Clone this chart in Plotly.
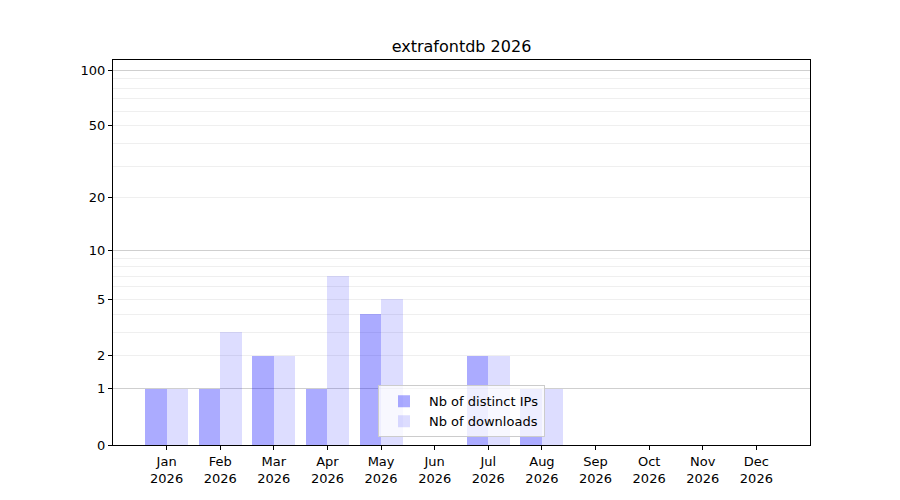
import numpy as np
import plotly.graph_objects as go

months = ["Jan", "Feb", "Mar", "Apr", "May", "Jun", "Jul", "Aug", "Sep", "Oct", "Nov", "Dec"]
year = 2026
distinct_ips = [1, 1, 2, 1, 4, 0, 2, 1, 0, 0, 0, 0]
downloads = [1, 3, 2, 7, 5, 0, 2, 1, 0, 0, 0, 0]
major_labels = [0, 1, 10, 100]
minor_labels = [2, 5, 20, 50]


def tr(v):
    # log10(1 + x) scale
    return np.log10(1 + np.asarray(v, dtype=float))


x = np.arange(1, len(months) + 1)
xlabels = [f"{m}<br>{year}" for m in months]

minor_vals = list(range(2, 10)) + list(range(20, 100, 10))
yrange = [0, float(tr(113.5))]

fig = go.Figure()
fig.add_trace(go.Bar(
    x=x - 0.2, y=tr(distinct_ips), width=0.4,
    marker=dict(color="rgba(0,0,255,0.33)", line=dict(width=0)),
    name="Nb of distinct IPs",
))
fig.add_trace(go.Bar(
    x=x + 0.2, y=tr(downloads), width=0.4,
    marker=dict(color="rgba(0,0,255,0.135)", line=dict(width=0)),
    name="Nb of downloads",
))
# invisible trace to carry the secondary tick labels (2, 5, 20, 50)
fig.add_trace(go.Scatter(x=[None], y=[None], yaxis="y2", showlegend=False, hoverinfo="skip"))

fig.update_layout(
    width=900, height=500,
    margin=dict(l=105, r=98, t=52, b=63),
    paper_bgcolor="white", plot_bgcolor="white",
    font=dict(family="DejaVu Sans", size=13, color="black"),
    title=dict(text=f"extrafontdb {year}", x=0.5, xref="paper", xanchor="center",
               y=0.924, yanchor="middle", font=dict(size=16)),
    showlegend=True,
    legend=dict(x=0.5, xanchor="center", y=0.02, yanchor="bottom",
                bgcolor="rgba(255,255,255,0.8)", bordercolor="#cccccc", borderwidth=1,
                font=dict(size=13), itemwidth=40),
    bargap=0,
    xaxis=dict(
        range=[0, 13], tickmode="array", tickvals=x, ticktext=xlabels,
        showgrid=False, zeroline=False, showline=True, linecolor="black", linewidth=1,
        mirror=True, ticks="outside", ticklen=4, tickcolor="black",
    ),
    yaxis=dict(
        range=yrange, tickmode="array", tickvals=tr(major_labels),
        ticktext=[str(v) for v in major_labels],
        showgrid=True, gridcolor="#cfcfcf", gridwidth=1,
        zeroline=False, showline=True, linecolor="black", linewidth=1,
        mirror=True, ticks="outside", ticklen=4, tickcolor="black",
        minor=dict(tickmode="array", tickvals=tr(minor_vals), showgrid=True,
                   gridcolor="#efefef", gridwidth=1, ticks=""),
    ),
    yaxis2=dict(overlaying="y", side="left", range=yrange, tickmode="array",
                tickvals=tr(minor_labels), ticktext=[str(v) for v in minor_labels],
                showgrid=False, zeroline=False, ticks="outside", ticklen=4,
                tickcolor="black", showline=False),
)

fig.write_html("out.html")
